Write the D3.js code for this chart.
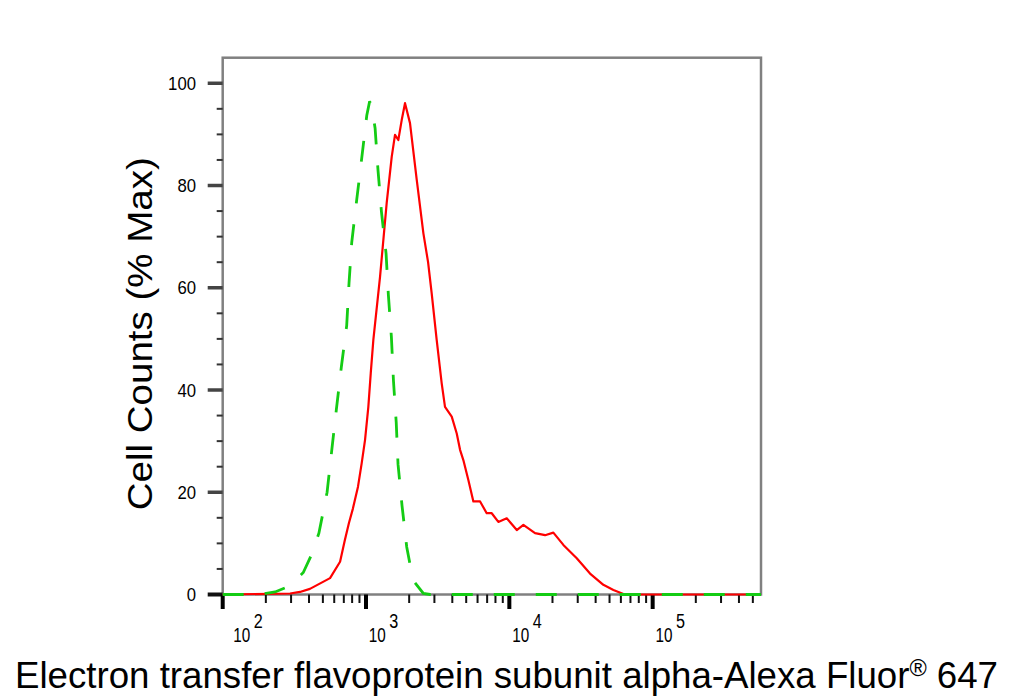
<!DOCTYPE html>
<html>
<head>
<meta charset="utf-8">
<script src="https://cdn.jsdelivr.net/npm/d3@7"></script>
<style>
  html, body { margin: 0; padding: 0; background: #fff; }
  svg { display: block; font-family: Arial, "Liberation Sans", sans-serif; }
</style>
</head>
<body>
<div id="chart"></div>
<script>
// fluorescence intensity (log axis) and % of max cell counts
const isotypeX = [100, 180, 232, 290, 365, 420, 469, 535, 576, 621, 672, 733, 761, 795, 861, 933, 1012, 1060, 1110, 1157, 1213, 1281, 1380, 1432, 1503, 1554, 1625, 1672, 1783, 1923, 2128, 2512, 2800, 570000];
const isotypeY = [0, 0, 0.5, 1.6, 4.3, 8, 12.0, 20.0, 28.1, 36.2, 44.4, 52.6, 60.9, 68.9, 77.2, 85.3, 93.7, 96.5, 94.5, 91.2, 82.9, 74.9, 66.7, 58.6, 50.4, 41.8, 33.6, 25.5, 17.4, 9.3, 2.8, 0.2, 0, 0];

const sampleX = [100, 295, 346, 406, 561, 659, 710, 760, 810, 879, 933, 984, 1038, 1079, 1125, 1253, 1394, 1511, 1593, 1680, 1774, 1871, 2027, 2259, 2512, 2710, 2872, 3112, 3373, 3557, 3963, 4295, 4530, 4776, 5176, 5610, 6250, 6950, 7535, 8378, 9590, 11270, 12530, 15110, 17750, 20280, 23820, 29530, 36560, 45290, 53220, 62520, 73340, 570000];
const sampleY = [0, 0.2, 0.5, 1.1, 3.2, 6.4, 10.5, 14.0, 16.8, 21.1, 25.7, 30.2, 36.7, 43.3, 49.8, 62.2, 76.6, 85.6, 89.9, 88.9, 92.8, 96.1, 92.2, 81.1, 70.7, 65.0, 58.9, 49.8, 41.3, 36.7, 34.8, 31.5, 28.3, 26.3, 22.4, 18.2, 18.2, 15.9, 15.9, 14.2, 14.9, 12.6, 13.6, 12.0, 11.6, 12.1, 9.7, 7.1, 4.1, 1.9, 0.9, 0.1, 0, 0];

const xMajorTicks = [1e2, 1e3, 1e4, 1e5];
const xExponents = ['2', '3', '4', '5'];
const yMajorTicks = [0, 20, 40, 60, 80, 100];
const yMinorTicks = [5, 10, 15, 25, 30, 35, 45, 50, 55, 65, 70, 75, 85, 90, 95];

const xTitle = 'Electron transfer flavoprotein subunit alpha-Alexa Fluor';
const xTitleTail = ' 647';
const yTitle = 'Cell Counts (% Max)';

const width = 1020, height = 697;
const plot = { left: 222.7, right: 761, top: 57.7, bottom: 594.5 };

const svg = d3.select('#chart').append('svg')
  .attr('width', width)
  .attr('height', height);

const x = d3.scaleLog().domain([100, 570000]).range([plot.left, plot.right]);
const y = d3.scaleLinear().domain([0, 105]).range([plot.bottom, plot.top]);

// minor x ticks: 2..9 times each decade
const xMinorTicks = [];
xMajorTicks.forEach((d) => {
  d3.range(2, 10).forEach((k) => {
    if (d * k < 570000) xMinorTicks.push(d * k);
  });
});

const line = d3.line()
  .x((d) => x(d[0]))
  .y((d) => y(d[1]));

const sample = d3.zip(sampleX, sampleY);
const isotype = d3.zip(isotypeX, isotypeY);

// frame
svg.append('rect')
  .attr('x', plot.left)
  .attr('y', plot.top)
  .attr('width', plot.right - plot.left)
  .attr('height', plot.bottom - plot.top)
  .attr('fill', 'none')
  .attr('stroke', '#808080')
  .attr('stroke-width', 2.5);

// y ticks
svg.append('g').selectAll('line')
  .data(yMinorTicks)
  .join('line')
  .attr('x1', plot.left - 6).attr('x2', plot.left)
  .attr('y1', (d) => y(d)).attr('y2', (d) => y(d))
  .attr('stroke', '#333').attr('stroke-width', 2);

svg.append('g').selectAll('line')
  .data(yMajorTicks)
  .join('line')
  .attr('x1', plot.left - 15).attr('x2', plot.left)
  .attr('y1', (d) => y(d)).attr('y2', (d) => y(d))
  .attr('stroke', (d) => (d === 0 ? '#111' : '#444'))
  .attr('stroke-width', (d) => (d === 0 ? 4 : 3.5));

svg.append('g').selectAll('text')
  .data(yMajorTicks)
  .join('text')
  .attr('x', 196)
  .attr('y', (d) => y(d) + 6.5)
  .attr('text-anchor', 'end')
  .attr('font-size', 18.5)
  .attr('textLength', (d) => String(d).length * 9.3)
  .attr('lengthAdjust', 'spacingAndGlyphs')
  .attr('fill', '#000')
  .text((d) => d);

// x ticks
svg.append('g').selectAll('line')
  .data(xMinorTicks)
  .join('line')
  .attr('x1', (d) => x(d)).attr('x2', (d) => x(d))
  .attr('y1', plot.bottom).attr('y2', plot.bottom + 8.5)
  .attr('stroke', '#111').attr('stroke-width', 2);

svg.append('g').selectAll('line')
  .data(xMajorTicks)
  .join('line')
  .attr('x1', (d) => x(d)).attr('x2', (d) => x(d))
  .attr('y1', plot.bottom).attr('y2', plot.bottom + 14.5)
  .attr('stroke', '#000').attr('stroke-width', 4);

const xLabels = svg.append('g').selectAll('g')
  .data(xMajorTicks)
  .join('g')
  .attr('transform', (d, i) => `translate(${x(d) + (i === 0 ? 10.6 : 2.8)},0)`);

xLabels.append('text')
  .attr('x', 0).attr('y', 641.5)
  .attr('font-size', 20.5)
  .attr('textLength', 17)
  .attr('lengthAdjust', 'spacingAndGlyphs')
  .text('10');

xLabels.append('text')
  .attr('x', 20.5).attr('y', 628.3)
  .attr('font-size', 20.5)
  .attr('textLength', 9)
  .attr('lengthAdjust', 'spacingAndGlyphs')
  .text((d, i) => xExponents[i]);

// histograms
svg.append('path')
  .datum(sample)
  .attr('d', line)
  .attr('fill', 'none')
  .attr('stroke', '#ff0000')
  .attr('stroke-width', 2.2)
  .attr('stroke-linejoin', 'round');

svg.append('path')
  .datum(isotype)
  .attr('d', line)
  .attr('fill', 'none')
  .attr('stroke', '#14cc14')
  .attr('stroke-width', 2.8)
  .attr('stroke-dasharray', '21 21');

// axis titles
svg.append('text')
  .attr('transform', 'translate(152,333.7) rotate(-90)')
  .attr('text-anchor', 'middle')
  .attr('font-size', 35)
  .attr('textLength', 353)
  .attr('lengthAdjust', 'spacingAndGlyphs')
  .text(yTitle);

const xt = svg.append('text')
  .attr('x', 15)
  .attr('y', 688)
  .attr('font-size', 36)
  .attr('textLength', 983)
  .attr('lengthAdjust', 'spacingAndGlyphs');
xt.append('tspan').text(xTitle);
xt.append('tspan').attr('font-size', 23).attr('dy', -12).text('®');
xt.append('tspan').attr('dy', 12).text(xTitleTail);
</script>
</body>
</html>
